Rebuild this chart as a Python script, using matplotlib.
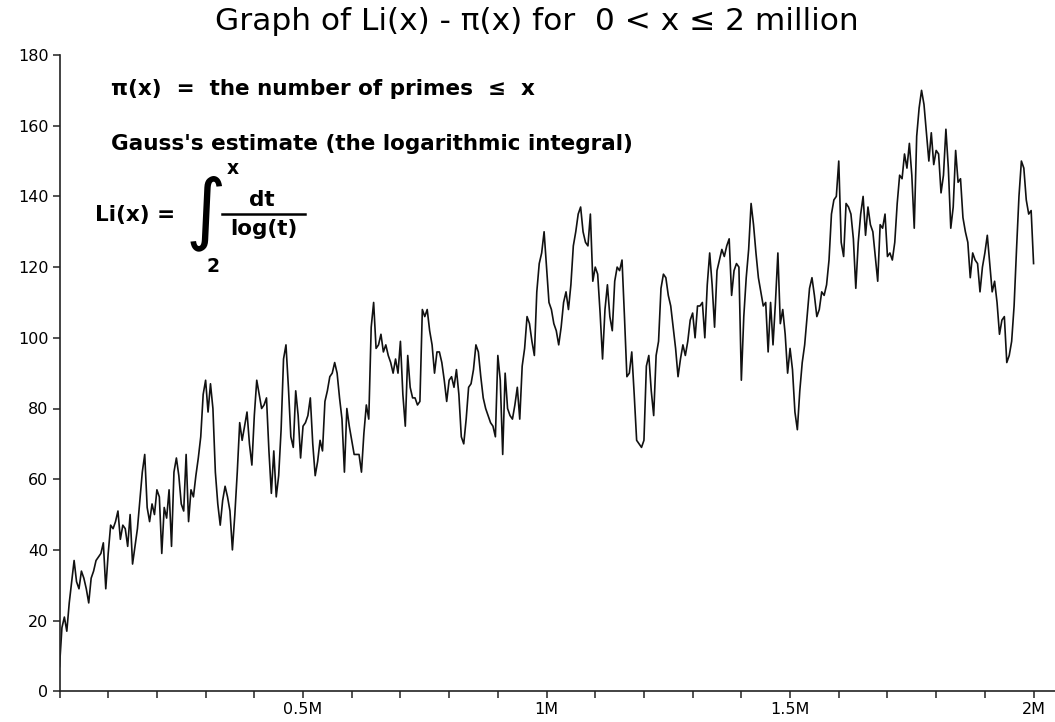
import numpy as np
import matplotlib
matplotlib.use('Agg')
import matplotlib.pyplot as plt
from matplotlib.ticker import FixedLocator, MultipleLocator

# шаг по x в миллионах, значения Li(x) - pi(x)
x_step = 0.005
diff_values = [
    7, 18, 21, 17, 25, 31, 37, 31, 29, 34,
    32, 29, 25, 32, 34, 37, 38, 39, 42, 29,
    39, 47, 46, 48, 51, 43, 47, 46, 41, 50,
    36, 41, 46, 54, 62, 67, 52, 48, 53, 50,
    57, 55, 39, 52, 49, 57, 41, 62, 66, 61,
    53, 51, 67, 48, 57, 55, 61, 66, 72, 84,
    88, 79, 87, 80, 62, 53, 47, 54, 58, 55,
    51, 40, 50, 62, 76, 71, 75, 79, 70, 64,
    78, 88, 84, 80, 81, 83, 68, 56, 68, 55,
    61, 74, 94, 98, 86, 72, 69, 85, 78, 66,
    75, 76, 78, 83, 70, 61, 65, 71, 68, 82,
    85, 89, 90, 93, 90, 83, 77, 62, 80, 75,
    71, 67, 67, 67, 62, 73, 81, 77, 103, 110,
    97, 98, 101, 96, 98, 95, 93, 90, 94, 90,
    99, 84, 75, 95, 86, 83, 83, 81, 82, 108,
    106, 108, 102, 98, 90, 96, 96, 93, 88, 82,
    88, 89, 86, 91, 84, 72, 70, 77, 86, 87,
    91, 98, 96, 89, 83, 80, 78, 76, 75, 72,
    95, 88, 67, 90, 80, 78, 77, 81, 86, 77,
    92, 97, 106, 104, 99, 95, 113, 121, 124, 130,
    120, 110, 108, 104, 102, 98, 103, 110, 113, 108,
    115, 126, 130, 135, 137, 130, 127, 126, 135, 116,
    120, 118, 107, 94, 108, 115, 106, 102, 116, 120,
    119, 122, 106, 89, 90, 96, 84, 71, 70, 69,
    71, 92, 95, 85, 78, 95, 99, 114, 118, 117,
    112, 109, 103, 97, 89, 94, 98, 95, 99, 105,
    107, 100, 109, 109, 110, 100, 115, 124, 115, 103,
    119, 122, 125, 123, 126, 128, 112, 119, 121, 120,
    88, 106, 117, 125, 138, 132, 124, 117, 113, 109,
    110, 96, 110, 98, 110, 124, 104, 108, 101, 90,
    97, 91, 79, 74, 85, 93, 98, 106, 114, 117,
    112, 106, 108, 113, 112, 115, 122, 135, 139, 140,
    150, 127, 123, 138, 137, 135, 128, 114, 127, 135,
    140, 129, 137, 132, 130, 123, 116, 132, 131, 135,
    123, 124, 122, 127, 138, 146, 145, 152, 148, 155,
    146, 131, 157, 165, 170, 166, 158, 150, 158, 149,
    153, 152, 141, 146, 159, 148, 131, 137, 153, 144,
    145, 134, 130, 127, 117, 124, 122, 121, 113, 120,
    124, 129, 121, 113, 116, 110, 101, 105, 106, 93,
    95, 99, 109, 125, 140, 150, 148, 139, 135, 136,
    121,
]

x_ticks = [0.5, 1.0, 1.5, 2.0]
x_tick_labels = ['0.5M', '1M', '1.5M', '2M']
y_ticks = list(range(0, 181, 20))

title_text = 'Graph of Li(x) - π(x) for  0 < x ≤ 2 million'
note_pi = 'π(x)  =  the number of primes  ≤  x'
note_gauss = "Gauss's estimate (the logarithmic integral)"

W, H = 1055, 722
x = np.arange(len(diff_values)) * x_step

fig = plt.figure(figsize=(W / 100, H / 100), dpi=100)
ax = fig.add_axes([59.5 / W, 1 - 691.3 / H, 1 - 59.5 / W, 636.3 / H])
ax.plot(x, diff_values, color='#111111', lw=1.2)

ax.set_xlim(0, 2.044)
ax.set_ylim(0, 180)
ax.spines['top'].set_visible(False)
ax.spines['right'].set_visible(False)
for s in ('left', 'bottom'):
    ax.spines[s].set_linewidth(1.2)
    ax.spines[s].set_color('#222222')

ax.xaxis.set_major_locator(FixedLocator(x_ticks))
ax.set_xticklabels(x_tick_labels)
ax.xaxis.set_minor_locator(MultipleLocator(0.1))
ax.set_yticks(y_ticks)
ax.tick_params(which='both', direction='out', length=5, width=1.1, color='#222222')
ax.tick_params(axis='both', labelsize=11.5, pad=3)

# текст
fig.text(537 / W, 1 - 22 / H, title_text, ha='center', va='center', fontsize=22.5)
fig.text(111 / W, 1 - 89 / H, note_pi, ha='left', va='center',
         fontsize=15.5, fontweight='bold')
fig.text(111 / W, 1 - 144 / H, note_gauss, ha='left', va='center',
         fontsize=15.5, fontweight='bold')
fig.text(95 / W, 1 - 215 / H, 'Li(x) = ', ha='left', va='center',
         fontsize=15.5, fontweight='bold')
fig.text(206 / W, 1 - 213 / H, '∫', ha='center', va='center', fontsize=56)
fig.text(233 / W, 1 - 168 / H, 'x', ha='center', va='center',
         fontsize=13.5, fontweight='bold')
fig.text(213 / W, 1 - 266 / H, '2', ha='center', va='center',
         fontsize=13.5, fontweight='bold')
fig.text(262 / W, 1 - 200 / H, 'dt', ha='center', va='center',
         fontsize=15.5, fontweight='bold')
fig.text(264 / W, 1 - 229 / H, 'log(t)', ha='center', va='center',
         fontsize=15.5, fontweight='bold')
fig.add_artist(plt.Line2D([222 / W, 305 / W], [1 - 214 / H, 1 - 214 / H],
                          color='black', lw=1.8))

fig.savefig('out.png', dpi=100)
